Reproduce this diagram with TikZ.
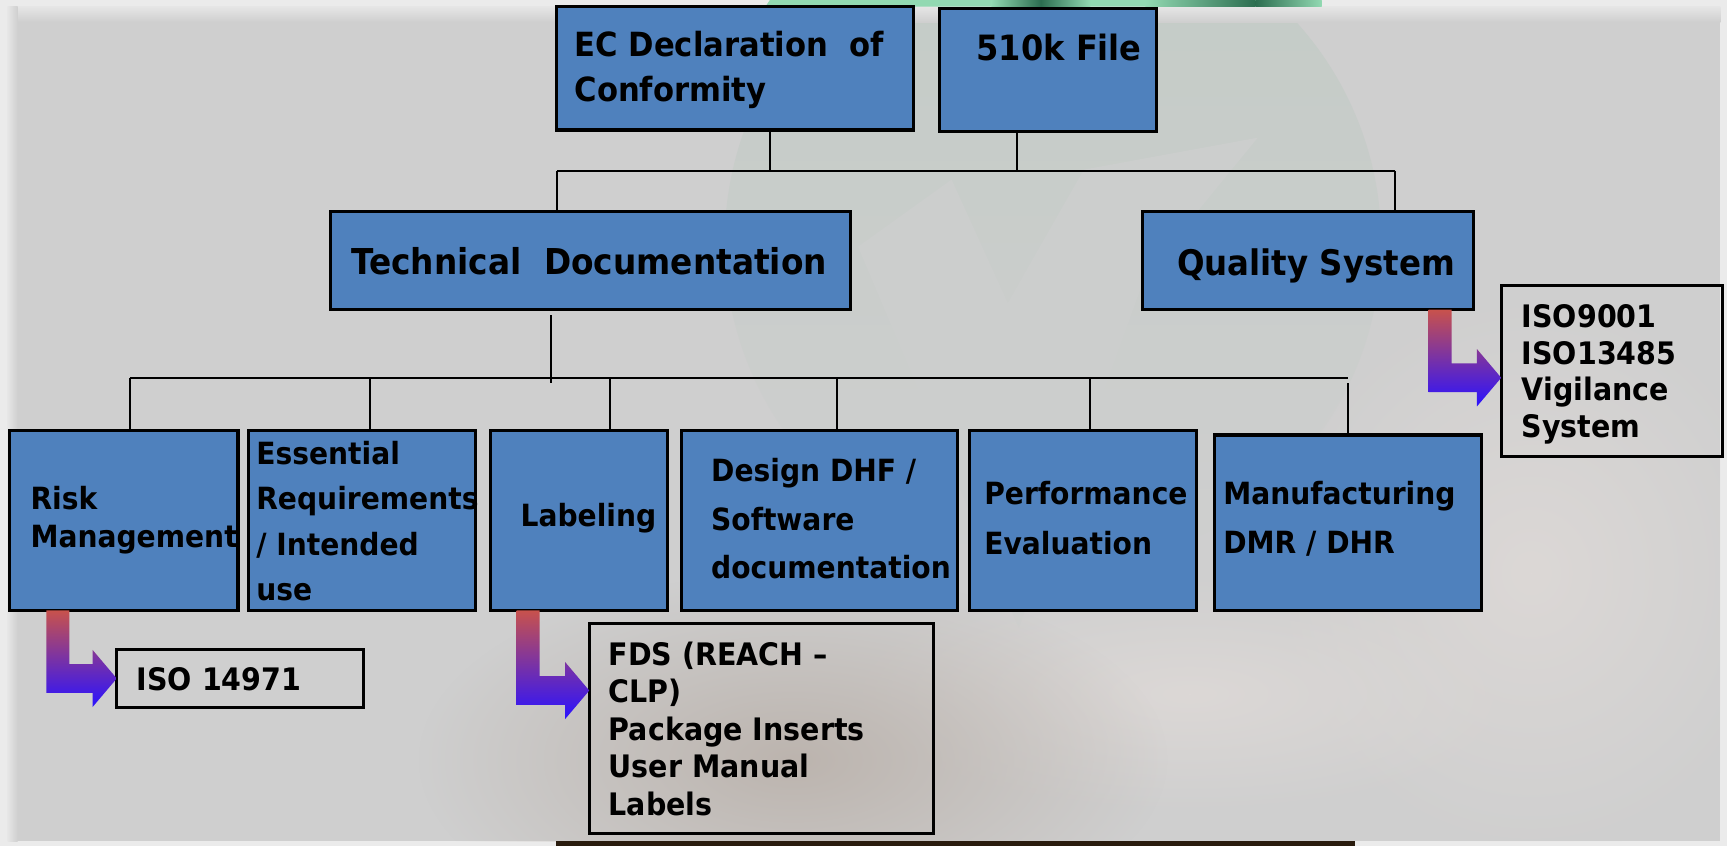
\documentclass[tikz,border=0pt]{standalone}
\usepackage{fontspec}
\setmainfont{DejaVu Sans}[FakeStretch=0.92]
\usetikzlibrary{calc,fadings}
\definecolor{boxblue}{HTML}{4F81BD}
\definecolor{bggrey}{HTML}{CFCFCF}
\definecolor{circtint}{HTML}{C3CBC6}
\definecolor{arrred}{HTML}{C8524C}
\definecolor{arrblue}{HTML}{2A12FF}
\definecolor{greenlight}{HTML}{92D9B2}
\definecolor{greendark}{HTML}{2C6E50}
\definecolor{handlight}{HTML}{DCD8D6}
\definecolor{beige}{HTML}{BCB4AE}
\tikzfading[name=softblob, inner color=transparent!0, outer color=transparent!100]
\newcommand{\mlines}[1]{\begin{tabular}[t]{@{}l@{}}#1\end{tabular}}
\newcommand{\fsz}[2]{\fontsize{#1}{#2}\selectfont}
\newcommand{\bentarrow}[3]{%
  \shade[top color=arrred, bottom color=arrblue]
    let \p1=(#2.south), \p2=(#3), \p3=(#1,0) in
    (\x3,\y1) -- (\x3+0.21cm,\y1) -- (\x3+0.21cm,\y2+0.13cm) -- (\x2-0.22cm,\y2+0.13cm)
    -- (\x2-0.22cm,\y2+0.26cm) -- (\x2,\y2) -- (\x2-0.22cm,\y2-0.26cm)
    -- (\x2-0.22cm,\y2-0.13cm) -- (\x3,\y2-0.13cm) -- cycle;}
\begin{document}
\begin{tikzpicture}[x=0.01cm, y=-0.01cm,
  box/.style={draw=black, line width=0.8pt, fill=boxblue, inner sep=0pt, outer sep=0pt, anchor=north west},
  plainbox/.style={draw=black, line width=0.8pt, inner sep=0pt, outer sep=0pt, anchor=north west},
  txt/.style={anchor=base west, inner sep=0pt, text=black},
  conn/.style={draw=black, line width=0.55pt},
  blob/.style={fill=#1, path fading=softblob}]
\useasboundingbox (0,0) rectangle (1568,768);
% ---------- background ----------
\fill[white!92!black] (0,0) rectangle (1568,768);
\fill[bggrey] (7,6) rectangle (1562,764);
\begin{scope}
  \clip (7,6) rectangle (1562,764);
  \shade[top color=circtint, middle color=circtint, bottom color=bggrey] (956,220) circle (298);
  \fill[bggrey!75!circtint] (779,224) -- (864,163) -- (915,275) -- (984,154) -- (1142,125)
     -- (1040,250) -- (925,570) -- cycle;
  \fill[blob=handlight] (1390,520) ellipse (240 and 260);
  \fill[blob=handlight] (1080,630) ellipse (320 and 110);
  \fill[blob=beige] (720,690) ellipse (340 and 170);
  \shade[top color=white!90!black, bottom color=bggrey] (7,6) rectangle (1562,20);
  \shade[left color=white!90!black, right color=bggrey] (7,6) rectangle (16,764);
\end{scope}
\fill[greenlight] (699,0) -- (1200,0) -- (1200,6) -- (695,6) -- cycle;
\shade[left color=greenlight, right color=greendark] (900,0) rectangle (945,6);
\shade[left color=greendark, right color=greenlight] (945,0) rectangle (990,6);
\shade[left color=greenlight, right color=greendark] (1040,0) rectangle (1140,6);
\shade[left color=greendark, right color=greenlight] (1140,0) rectangle (1200,6);
\fill[black!78!brown] (505,764) rectangle (1230,768);
% ---------- boxes ----------
\node[box, minimum width=3.24cm, minimum height=1.12cm] (ec) at (505,6) {};
\node[box, minimum width=1.97cm, minimum height=1.11cm] (k510) at (853,8) {};
\node[box, minimum width=4.72cm, minimum height=0.89cm] (td) at (300,192) {};
\node[box, minimum width=3.01cm, minimum height=0.89cm] (qs) at (1037,192) {};
\node[plainbox, minimum width=2.01cm, minimum height=1.55cm] (isoq) at (1363,259) {};
\node[box, minimum width=2.07cm, minimum height=1.63cm] (rm) at (9,391) {};
\node[box, minimum width=2.06cm, minimum height=1.63cm] (er) at (226,391) {};
\node[box, minimum width=1.61cm, minimum height=1.63cm] (lab) at (445,391) {};
\node[box, minimum width=2.50cm, minimum height=1.63cm] (dhf) at (619,391) {};
\node[box, minimum width=2.06cm, minimum height=1.63cm] (pe) at (880,391) {};
\node[box, minimum width=2.42cm, minimum height=1.59cm] (mf) at (1103,395) {};
\node[plainbox, minimum width=2.24cm, minimum height=0.52cm] (iso14) at (106,590) {};
\node[plainbox, minimum width=3.12cm, minimum height=1.91cm] (fds) at (535,566) {};
% ---------- texts ----------
\node[txt, font=\bfseries\fsz{8.6}{11.8}] (ecT) at (521,51) {\mlines{EC Declaration\ \ of\\Conformity}};
\node[txt, font=\bfseries\fsz{9.0}{11}] (kT) at (886,54.5) {510k File};
\node[txt, font=\bfseries\fsz{9.2}{11}] (tdT) at (318,249) {Technical\ \ Documentation};
\node[txt, font=\bfseries\fsz{9.1}{11}] (qsT) at (1068,250) {Quality System};
\node[txt, font=\bfseries\fsz{8.0}{9.53}] (isoqT) at (1381,297) {\mlines{ISO9001\\ISO13485\\Vigilance\\System}};
\node[txt, font=\bfseries\fsz{7.9}{9.67}] (rmT) at (27,463) {\mlines{Risk\\Management}};
\node[txt, font=\bfseries\fsz{7.9}{11.67}] (erT) at (232,422) {\mlines{Essential\\Requirements\\/ Intended\\use}};
\node[txt, font=\bfseries\fsz{7.9}{11}] (labT) at (472,478) {Labeling};
\node[txt, font=\bfseries\fsz{7.9}{12.5}] (dhfT) at (645,437.5) {\mlines{Design DHF /\\Software\\documentation}};
\node[txt, font=\bfseries\fsz{7.9}{12.66}] (peT) at (893,458.5) {\mlines{Performance\\Evaluation}};
\node[txt, font=\bfseries\fsz{7.9}{12.5}] (mfT) at (1110,458.5) {\mlines{Manufacturing\\DMR / DHR}};
\node[txt, font=\bfseries\fsz{8.0}{10}] (iso14T) at (123.5,627) {ISO 14971};
\node[txt, font=\bfseries\fsz{8.0}{9.67}] (fdsT) at (552,604) {\mlines{FDS (REACH --\\CLP)\\Package Inserts\\User Manual\\Labels}};
% ---------- connectors ----------
\coordinate (e1) at (699,155);
\coordinate (k1) at (923,155);
\coordinate (b1L) at (505.5,155);
\coordinate (b1R) at (1266.5,155);
\draw[conn] (e1 |- ec.south) -- (e1);
\draw[conn] (k1 |- k510.south) -- (k1);
\draw[conn] (b1L) -- (b1R);
\draw[conn] (b1L) -- (b1L |- td.north);
\draw[conn] (b1R) -- (b1R |- qs.north);
\coordinate (t1) at (500,348);
\draw[conn] ($(t1 |- td.south)+(0,5)$) -- (t1);
\coordinate (b2L) at (118,343);
\coordinate (b2R) at (1224,343);
\draw[conn] (b2L) -- (b2R);
\foreach \xx/\nn in {118/rm,336/er,554/lab,760/dhf,989.5/pe} {
  \coordinate (v\nn) at (\xx,343);
  \draw[conn] (v\nn) -- (v\nn |- \nn.north);
}
\coordinate (vmf) at (1224,348);
\draw[conn] (vmf) -- (vmf |- mf.north);
% ---------- bent arrows ----------
\coordinate (tipfds) at (0,627);
\coordinate (tipq) at (0,343);
\bentarrow{42}{rm}{iso14.west}
\bentarrow{469}{lab}{fds.west |- tipfds}
\bentarrow{1297}{qs}{isoq.west |- tipq}
\end{tikzpicture}
\end{document}
